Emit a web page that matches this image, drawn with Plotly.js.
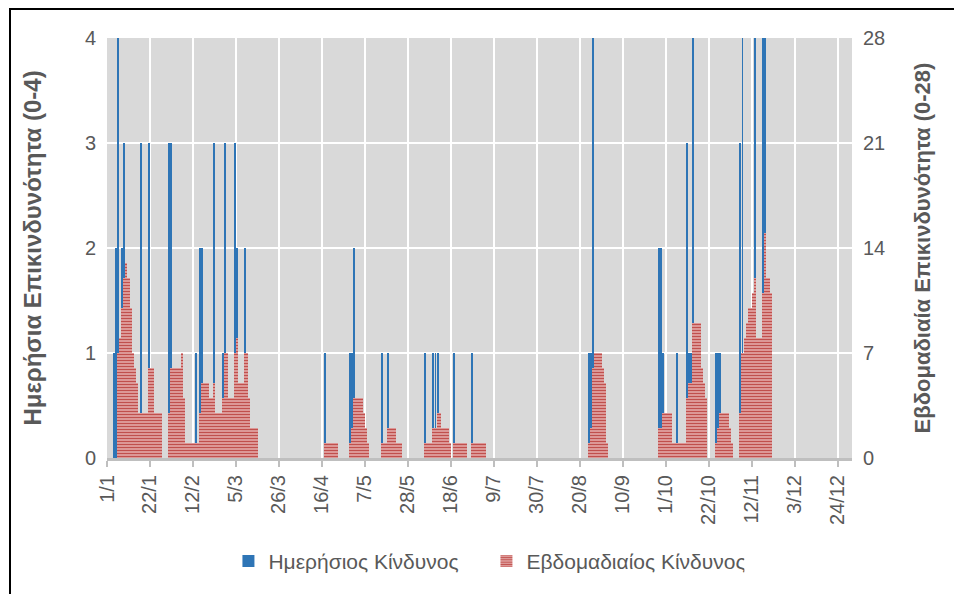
<!DOCTYPE html>
<html>
<head>
<meta charset="utf-8">
<script src="https://cdn.plot.ly/plotly-3.0.1.min.js"></script>
<style>
  html, body { margin: 0; padding: 0; background: #ffffff; overflow: hidden; }
  #wrap { position: relative; width: 954px; height: 594px; }
  #chart { position: absolute; left: 0; top: 0; width: 954px; height: 594px; }
  #frame { position: absolute; left: 9px; top: 8px; width: 1000px; height: 1000px;
           border-left: 2px solid #000; border-top: 2px solid #000; pointer-events: none; }
</style>
</head>
<body>
<div id="wrap"><div id="chart"></div><div id="frame"></div></div>
<script>
// One value per day, starting 1 January (non-leap year), ending 21 November.
const startDate = '2019-01-01';

// Daily risk (0-4), primary axis
const dailyRisk = [
  // Jan
  0,0,0,1,2,4,1,2,3,0, 0,0,0,0,0,0,3,0,0,0, 3,0,0,0,0,0,0,0,0,0, 3,
  // Feb
  3,0,0,0,0,1,0,0,0,0, 0,0,1,0,2,2,0,0,0,0, 0,3,0,0,0,1,3,0,
  // Mar
  0,0,0,3,2,0,0,0,2,0, 0,0,0,0,0,0,0,0,0,0, 0,0,0,0,0,0,0,0,0,0, 0,
  // Apr
  0,0,0,0,0,0,0,0,0,0, 0,0,0,0,0,0,1,0,0,0, 0,0,0,0,0,0,0,0,1,1,
  // May
  2,0,0,0,0,0,0,0,0,0, 0,0,0,0,1,0,0,1,0,0, 0,0,0,0,0,0,0,0,0,0, 0,
  // Jun
  0,0,0,0,1,0,0,0,1,1, 1,0,0,0,0,0,0,0,1,0, 0,0,0,0,0,0,0,1,0,0,
  // Jul
  0,0,0,0,0,0,0,0,0,0, 0,0,0,0,0,0,0,0,0,0, 0,0,0,0,0,0,0,0,0,0, 0,
  // Aug
  0,0,0,0,0,0,0,0,0,0, 0,0,0,0,0,0,0,0,0,0, 0,0,0,1,1,4,1,0,0,0, 0,
  // Sep
  0,0,0,0,0,0,0,0,0,0, 0,0,0,0,0,0,0,0,0,0, 0,0,0,0,0,0,2,2,1,0,
  // Oct
  0,0,0,0,0,1,0,0,0,0, 3,1,1,4,0,0,0,0,0,0, 0,0,0,0,1,1,1,0,0,0, 0,
  // Nov
  0,0,0,0,0,3,4,1,1,1, 0,1,4,0,1,1,4,4,0,1, 0
];

// Weekly risk (0-28), secondary axis
const weeklyRisk = [
  // Jan
  0,0,0,0,0,7,8,10,12,13, 12,10,7,6,5,3,3,3,3,3, 6,6,6,3,3,3,3,0,0,0, 3,
  // Feb
  6,6,6,6,6,7,4,1,1,1, 1,1,1,1,3,5,5,5,5,4, 4,5,3,3,3,4,7,7,
  // Mar
  4,4,4,7,8,5,5,5,7,7, 4,2,2,2,2,0,0,0,0,0, 0,0,0,0,0,0,0,0,0,0, 0,
  // Apr
  0,0,0,0,0,0,0,0,0,0, 0,0,0,0,0,0,1,1,1,1, 1,1,1,0,0,0,0,0,1,2,
  // May
  4,4,4,4,4,3,2,1,0,0, 0,0,0,0,1,1,1,2,2,2, 2,1,1,1,0,0,0,0,0,0, 0,
  // Jun
  0,0,0,0,1,1,1,1,2,2, 3,3,2,2,2,2,1,0,1,1, 1,1,1,1,1,0,0,1,1,1,
  // Jul
  1,1,1,1,0,0,0,0,0,0, 0,0,0,0,0,0,0,0,0,0, 0,0,0,0,0,0,0,0,0,0, 0,
  // Aug
  0,0,0,0,0,0,0,0,0,0, 0,0,0,0,0,0,0,0,0,0, 0,0,0,1,2,6,7,7,7,7, 6,
  // Sep
  5,1,0,0,0,0,0,0,0,0, 0,0,0,0,0,0,0,0,0,0, 0,0,0,0,0,0,2,2,3,3,
  // Oct
  3,3,3,1,1,1,1,1,1,1, 4,5,5,9,9,9,9,6,5,4, 0,0,0,0,1,2,3,3,3,3, 3,
  // Nov
  2,1,0,0,0,3,7,8,9,10, 10,11,12,8,8,8,11,15,12,12, 11
];

const seriesNames = ['Ημερήσιος Κίνδυνος', 'Εβδομαδιαίος Κίνδυνος'];
const leftTitle = 'Ημερήσια Επικινδυνότητα (0-4)';
const rightTitle = 'Εβδομαδιαία Επικινδυνότητα (0-28)';

const DAY = 86400000;
const t0 = Date.parse(startDate + 'T00:00:00Z');
function dayCentre(i) {
  return new Date(t0 + i * DAY).toISOString().slice(0, 10) + ' 12:00';
}
const days = dailyRisk.map((_, i) => dayCentre(i));

const FONT = 'Liberation Sans, Arial, sans-serif';
const GREY = '#595959';

const traces = [
  {
    type: 'bar', name: seriesNames[0], x: days, y: dailyRisk, yaxis: 'y',
    width: 0.96 * DAY,
    marker: { color: '#2e75b6', line: { width: 0 } },
    hoverinfo: 'skip'
  },
  {
    type: 'bar', name: seriesNames[1], x: days, y: weeklyRisk, yaxis: 'y2',
    width: DAY,
    marker: {
      color: '#c0504d', line: { width: 0 },
      pattern: { shape: '-', fillmode: 'replace', fgcolor: '#c0504d', bgcolor: '#f0c8c7', size: 3, solidity: 0.6 }
    },
    hoverinfo: 'skip'
  }
];

const layout = {
  width: 954, height: 594,
  margin: { l: 107, r: 102, t: 38, b: 133, pad: 0 },
  paper_bgcolor: '#ffffff',
  plot_bgcolor: '#d9d9d9',
  font: { family: FONT, color: GREY },
  barmode: 'overlay',
  bargap: 0,
  showlegend: true,
  legend: {
    orientation: 'h', x: 0.163, xanchor: 'left', y: -0.246, yanchor: 'middle',
    entrywidth: 213, entrywidthmode: 'pixels',
    font: { size: 21, color: GREY, family: FONT }, traceorder: 'normal',
    bgcolor: 'rgba(0,0,0,0)'
  },
  xaxis: {
    type: 'date',
    range: ['2019-01-01', '2019-12-31'],
    tick0: '2019-01-01', dtick: 21 * DAY, tickformat: '%-d/%-m',
    tickangle: -90,
    ticks: 'outside', ticklen: 6, tickwidth: 2, tickcolor: '#bfbfbf',
    showline: true, linecolor: '#bfbfbf', linewidth: 3,
    showgrid: true, gridcolor: '#ffffff', gridwidth: 2,
    zeroline: false,
    tickfont: { size: 20, color: GREY, family: FONT },
    fixedrange: true
  },
  yaxis: {
    range: [0, 4], tick0: 0, dtick: 1,
    showgrid: true, gridcolor: '#ffffff', gridwidth: 2,
    zeroline: false, showline: false, ticks: '',
    tickfont: { size: 20, color: GREY, family: FONT },
    ticklabelstandoff: 10,
    title: { text: '<b>' + leftTitle + '</b>', font: { size: 24, color: GREY, family: FONT }, standoff: 36 },
    fixedrange: true
  },
  yaxis2: {
    overlaying: 'y', side: 'right',
    range: [0, 28], tick0: 0, dtick: 7,
    showgrid: false, zeroline: false, showline: false, ticks: '',
    tickfont: { size: 20, color: GREY, family: FONT },
    ticklabelstandoff: 10,
    title: { text: '<b>' + rightTitle + '</b>', font: { size: 22, color: GREY, family: FONT }, standoff: 30 },
    fixedrange: true
  }
};

Plotly.newPlot('chart', traces, layout, { displayModeBar: false, staticPlot: true });
</script>
</body>
</html>
